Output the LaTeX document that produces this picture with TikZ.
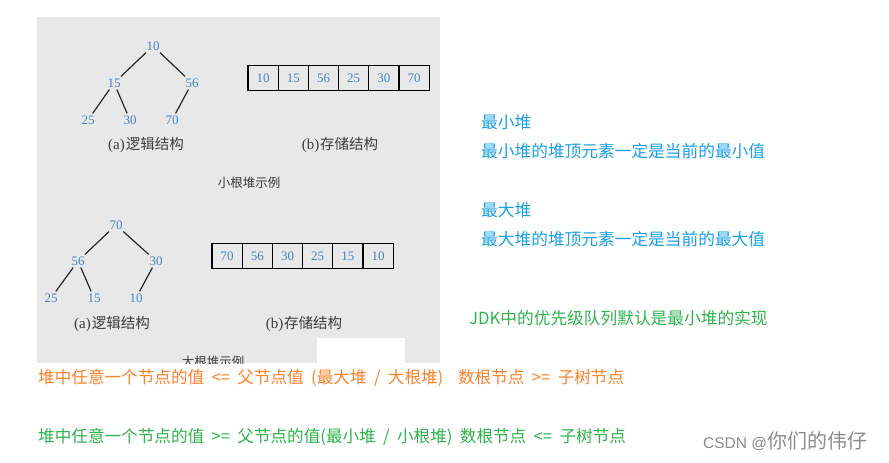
\documentclass[tikz,border=0pt]{standalone}
\usepackage{fontspec}
\setmainfont{Noto Sans CJK SC}
\newfontfamily\numfont{Liberation Serif}
\newfontfamily\wmfont{Liberation Sans}
\definecolor{imgbg}{RGB}{232,232,232}
\definecolor{numblue}{RGB}{70,130,195}
\definecolor{lblgray}{RGB}{60,60,60}
\definecolor{noteblue}{RGB}{25,160,230}
\definecolor{notegreen}{RGB}{45,180,75}
\definecolor{noteorange}{RGB}{255,128,40}
\definecolor{wmgray}{RGB}{140,140,140}
\newcommand{\ser}[1]{{\numfont\fontsize{15}{15}\selectfont #1}\kern1pt}
\begin{document}
\begin{tikzpicture}[x=1pt,y=-1pt,
  num/.style={font=\numfont\fontsize{13}{13}\selectfont, text=numblue, inner sep=2pt},
  cell/.style={draw=black, line width=1.1pt, minimum width=30.2pt, minimum height=25pt, inner sep=0pt, font=\numfont\fontsize{13}{13}\selectfont, text=numblue},
  treeline/.style={draw=black!85, line width=1.2pt},
  lbl/.style={font=\fontsize{14.5}{14.5}\selectfont, text=lblgray, inner sep=0pt},
  capt/.style={font=\fontsize{12.5}{12.5}\selectfont, text=lblgray, inner sep=0pt},
  note/.style={font=\fontsize{16.7}{16.7}\selectfont, anchor=west, inner sep=0pt},
  rule/.style={font={\fontsize{16.6}{16.6}\selectfont\spaceskip=7.4pt\relax}, anchor=west, inner sep=0pt}]
\useasboundingbox (0,0) rectangle (889,463);
\fill[white] (0,0) rectangle (889,463);
\fill[imgbg] (37,17) rectangle (440,363);
% top tree (min heap)
\node[num] (a10) at (153,46) {10};
\node[num] (a15) at (114,83) {15};
\node[num] (a56) at (192,83) {56};
\node[num] (a25) at (88,120) {25};
\node[num] (a30) at (130,120) {30};
\node[num] (a70) at (172,120) {70};
\draw[treeline] (a10) -- (a15);
\draw[treeline] (a10) -- (a56);
\draw[treeline] (a15) -- (a25);
\draw[treeline] (a15) -- (a30);
\draw[treeline] (a56) -- (a70);
\foreach \v [count=\i] in {10,15,56,25,30,70}
  \node[cell] (ta\i) at ({248+15.1+30.2*(\i-1)},78) {\v};
\node[lbl] (la1) at (146,145) {\ser{(a)}逻辑结构};
\node[lbl] (lb1) at (340,145) {\ser{(b)}存储结构};
\node[capt] (cap1) at (249,183) {小根堆示例};
% bottom tree (max heap)
\node[num] (b70) at (116,225) {70};
\node[num] (b56) at (78,261) {56};
\node[num] (b30) at (156,261) {30};
\node[num] (b25) at (51,298) {25};
\node[num] (b15) at (94,298) {15};
\node[num] (b10) at (136,298) {10};
\draw[treeline] (b70) -- (b56);
\draw[treeline] (b70) -- (b30);
\draw[treeline] (b56) -- (b25);
\draw[treeline] (b56) -- (b15);
\draw[treeline] (b30) -- (b10);
\foreach \v [count=\i] in {70,56,30,25,15,10}
  \node[cell] (tb\i) at ({212+15.1+30.2*(\i-1)},256) {\v};
\node[lbl] (la2) at (112,324) {\ser{(a)}逻辑结构};
\node[lbl] (lb2) at (304,324) {\ser{(b)}存储结构};
\begin{scope}
  \clip (37,17) rectangle (440,363);
  \node[capt] (cap2) at (213,362) {大根堆示例};
\end{scope}
\fill[white] (317,338) rectangle (405,363);
% notes
\node[note, text=noteblue] (n1) at (481,122) {最小堆};
\node[note, text=noteblue] (n2) at (481,151) {最小堆的堆顶元素一定是当前的最小值};
\node[note, text=noteblue] (n3) at (481,210) {最大堆};
\node[note, text=noteblue] (n4) at (481,239) {最大堆的堆顶元素一定是当前的最大值};
\node[note, text=notegreen] (n5) at (469,318) {JDK中的优先级队列默认是最小堆的实现};
\node[rule, text=noteorange] (n6) at (38,378) {堆中任意一个节点的值 <= 父节点值 (最大堆 / 大根堆)\ \ 数根节点 >= 子树节点};
\node[rule, text=notegreen] (n7) at (38,437) {堆中任意一个节点的值 >= 父节点的值(最小堆 / 小根堆) 数根节点 <= 子树节点};
\node[anchor=west, inner sep=0pt, text=wmgray] (wm) at (703,441) {{\wmfont\fontsize{15.5}{15.5}\selectfont CSDN @}{\fontsize{20}{20}\selectfont 你们的伟仔}};
\end{tikzpicture}
\end{document}
